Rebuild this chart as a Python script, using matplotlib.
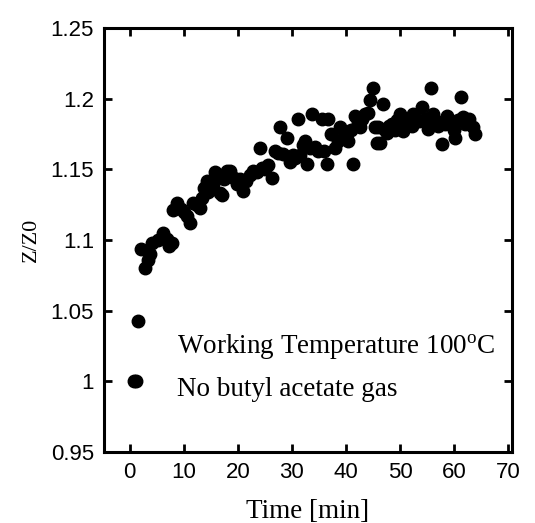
import matplotlib
matplotlib.use("Agg")
import matplotlib.pyplot as plt
from matplotlib.ticker import FuncFormatter

# Z/Z0 vs time
time_min = [
    0.7, 1.1, 1.6, 2.0, 2.8, 3.3, 3.7, 4.1, 5.2, 6.1, 6.9, 7.3, 7.8, 8.0, 8.7,
    9.4, 10.1, 10.6, 11.1, 11.7, 12.5, 13.0, 13.3, 13.8, 14.4, 14.3, 15.0, 15.4,
    15.7, 16.1, 16.7, 17.0, 17.5, 18.0, 18.5, 19.2, 19.8, 20.4, 20.9, 21.5,
    22.2, 22.8, 23.5, 24.0, 24.4, 25.0, 25.6, 26.3, 26.9, 27.5, 27.8, 28.3,
    29.0, 29.6, 30.2, 30.6, 31.1, 31.5, 32.0, 32.4, 32.8, 33.3, 33.7, 34.2,
    34.8, 35.5, 36.0, 36.5, 36.7, 37.3, 38.0, 38.5, 38.9, 39.4, 40.0, 40.4,
    41.0, 41.3, 41.7, 42.2, 42.6, 43.0, 43.5, 44.0, 44.4, 44.9, 45.3, 45.7,
    45.9, 46.3, 46.9, 47.3, 47.6, 48.0, 48.5, 49.0, 49.5, 50.0, 50.6, 51.0,
    51.6, 52.2, 52.4, 53.0, 53.5, 54.0, 54.5, 55.2, 55.8, 56.1, 56.6, 57.1,
    57.8, 58.3, 58.7, 59.3, 60.0, 60.2, 60.7, 61.3, 61.6, 62.1, 62.8, 63.5,
    63.9,
]
z_ratio = [
    1.000, 1.000, 1.043, 1.094, 1.080, 1.086, 1.090, 1.098, 1.100, 1.105, 1.101,
    1.096, 1.098, 1.121, 1.126, 1.122, 1.120, 1.117, 1.112, 1.126, 1.125, 1.123,
    1.130, 1.137, 1.134, 1.142, 1.139, 1.140, 1.148, 1.147, 1.133, 1.132, 1.143,
    1.149, 1.149, 1.144, 1.140, 1.143, 1.135, 1.142, 1.146, 1.149, 1.148, 1.165,
    1.151, 1.150, 1.153, 1.144, 1.163, 1.162, 1.180, 1.161, 1.172, 1.155, 1.160,
    1.158, 1.186, 1.160, 1.167, 1.170, 1.154, 1.165, 1.189, 1.166, 1.163, 1.186,
    1.163, 1.154, 1.186, 1.175, 1.165, 1.170, 1.180, 1.173, 1.175, 1.170, 1.178,
    1.154, 1.188, 1.183, 1.180, 1.186, 1.189, 1.190, 1.199, 1.208, 1.180, 1.169,
    1.180, 1.169, 1.196, 1.178, 1.176, 1.181, 1.182, 1.178, 1.185, 1.189, 1.177,
    1.184, 1.186, 1.181, 1.189, 1.185, 1.184, 1.194, 1.186, 1.179, 1.208, 1.189,
    1.184, 1.181, 1.168, 1.182, 1.188, 1.183, 1.178, 1.172, 1.185, 1.201, 1.187,
    1.182, 1.186, 1.180, 1.175,
]
x_ticks = [0, 10, 20, 30, 40, 50, 60, 70]
y_ticks = [0.95, 1.0, 1.05, 1.1, 1.15, 1.2, 1.25]

plt.rcParams["mathtext.fontset"] = "custom"
plt.rcParams["mathtext.rm"] = "Liberation Serif"

SANS = "Liberation Sans"
SERIF = "Liberation Serif"

fig = plt.figure(figsize=(5.35, 5.23), dpi=100)
ax = fig.add_axes([0.194, 0.136, 0.763, 0.810])

ax.plot(time_min, z_ratio, "o", color="black", ms=9, mec="black")

ax.set_xlim(-4.8, 70.7)
ax.set_ylim(0.95, 1.25)
ax.set_xticks(x_ticks)
ax.set_yticks(y_ticks)
ax.yaxis.set_major_formatter(FuncFormatter(lambda v, p: f"{v:g}"))
ax.tick_params(direction="in", top=True, right=True, length=6, width=2,
               labelsize=16, pad=7)
for lab in ax.get_xticklabels() + ax.get_yticklabels():
    lab.set_fontfamily(SANS)
for s in ax.spines.values():
    s.set_linewidth(2.2)

ax.set_xlabel("Time [min]", family=SERIF, fontsize=19.5, labelpad=12)
ax.set_ylabel("Z/Z0", family=SERIF, fontsize=16, labelpad=7)

ax.text(8.7, 1.024, r"Working Temperature 100$^{\mathrm{o}}$C", family=SERIF,
        fontsize=19.5, va="center")
ax.text(8.7, 0.9945, "No butyl acetate gas", family=SERIF, fontsize=19.5,
        va="center")

fig.savefig("out.png", dpi=100)
